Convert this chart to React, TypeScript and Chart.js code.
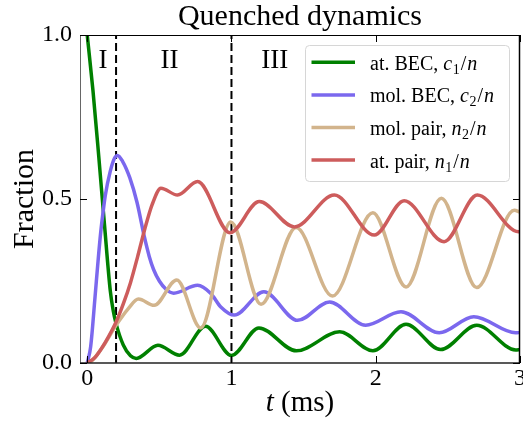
import React, { useEffect, useRef } from 'react';
import { Chart, registerables } from 'chart.js';

Chart.register(...registerables);

// ---------- data ----------
const chartTitle = 'Quenched dynamics';
const yLabel = 'Fraction';
const xLabelItalic = 't';
const xLabelRest = ' (ms)';

const seriesNames = ['at. BEC, ', 'mol. BEC, ', 'mol. pair, ', 'at. pair, '];
const seriesSymbols = ['c', 'c', 'n', 'n'];
const seriesSubs = ['1', '2', '2', '1'];
const seriesColors = ['#008000', '#7B68EE', '#D2B48C', '#CD5C5C'];

// at. BEC, c1/n
const tAtBEC = [0, 0.04, 0.08, 0.12, 0.16, 0.18, 0.2, 0.25, 0.3, 0.34, 0.49, 0.64, 0.82, 1.0, 1.19, 1.45, 1.75, 1.98, 2.21, 2.45, 2.7, 2.97, 3.0];
const atBEC = [1.0, 0.83, 0.63, 0.42, 0.22, 0.16, 0.12, 0.055, 0.022, 0.014, 0.054, 0.024, 0.112, 0.023, 0.107, 0.037, 0.095, 0.037, 0.118, 0.041, 0.115, 0.04, 0.041];

// mol. BEC, c2/n
const tMolBEC = [0, 0.024, 0.054, 0.075, 0.094, 0.11, 0.125, 0.16, 0.19, 0.21, 0.245, 0.295, 0.345, 0.396, 0.43, 0.46, 0.5, 0.546, 0.6, 0.765, 0.857, 0.926, 1.02, 1.224, 1.459, 1.68, 1.93, 2.175, 2.44, 2.68, 2.97, 3.0];
const molBEC = [0, 0.05, 0.2, 0.31, 0.4, 0.46, 0.51, 0.585, 0.625, 0.633, 0.615, 0.565, 0.49, 0.385, 0.325, 0.285, 0.25, 0.225, 0.213, 0.237, 0.212, 0.171, 0.146, 0.217, 0.13, 0.186, 0.115, 0.156, 0.092, 0.141, 0.092, 0.093];

// mol. pair, n2/n
const tMolPair = [0, 0.02, 0.1, 0.2, 0.285, 0.355, 0.464, 0.621, 0.787, 0.995, 1.205, 1.448, 1.7, 1.98, 2.21, 2.455, 2.7, 2.96, 3.0];
const molPair = [0, 0.002, 0.044, 0.115, 0.166, 0.195, 0.176, 0.253, 0.107, 0.43, 0.179, 0.413, 0.204, 0.458, 0.232, 0.502, 0.23, 0.466, 0.46];

// at. pair, n1/n
const tAtPair = [0, 0.05, 0.1, 0.15, 0.2, 0.25, 0.3, 0.35, 0.4, 0.45, 0.511, 0.626, 0.765, 0.99, 1.193, 1.436, 1.713, 1.99, 2.197, 2.474, 2.704, 2.99, 3.0];
const atPair = [0, 0.015, 0.045, 0.082, 0.125, 0.18, 0.245, 0.325, 0.41, 0.483, 0.533, 0.512, 0.553, 0.397, 0.492, 0.415, 0.512, 0.39, 0.495, 0.37, 0.512, 0.4, 0.4];

const seriesTimes = [tAtBEC, tMolBEC, tMolPair, tAtPair];
const seriesValues = [atBEC, molBEC, molPair, atPair];

const xTicks = [0, 1, 2, 3];
const yTicks = [0, 0.5, 1.0];
const xMin = -0.05;
const xMax = 3.0;

const regionBounds = [0.2, 1.0];
const regionLabels = ['I', 'II', 'III'];
const regionLabelX = [0.11, 0.57, 1.3];
const regionLabelY = 0.898;

// ---------- styles ----------
const SERIF = '"Liberation Serif", "Times New Roman", serif';

const decorPlugin = {
  id: 'decor',
  afterDraw(chart: any) {
    const { ctx, chartArea, scales } = chart;
    const { left, right, top, bottom } = chartArea;
    const x = scales.x;
    const y = scales.y;
    ctx.save();

    // region labels
    ctx.font = `27px ${SERIF}`;
    ctx.fillStyle = '#000';
    ctx.textAlign = 'center';
    ctx.textBaseline = 'alphabetic';
    regionLabels.forEach((s, i) => {
      ctx.fillText(s, x.getPixelForValue(regionLabelX[i]), y.getPixelForValue(regionLabelY));
    });

    // spines
    ctx.lineWidth = 1;
    ctx.strokeStyle = '#666';
    ctx.beginPath(); ctx.moveTo(left + 0.5, top); ctx.lineTo(left + 0.5, bottom); ctx.stroke();
    ctx.strokeStyle = '#222';
    ctx.lineWidth = 1.5;
    ctx.beginPath(); ctx.moveTo(left, bottom); ctx.lineTo(right, bottom); ctx.stroke();
    ctx.lineWidth = 1;
    ctx.strokeStyle = '#000';
    ctx.beginPath(); ctx.moveTo(left, top + 0.5); ctx.lineTo(right, top + 0.5); ctx.stroke();
    ctx.lineWidth = 1.5;
    ctx.beginPath(); ctx.moveTo(right - 0.5, top); ctx.lineTo(right - 0.5, bottom); ctx.stroke();

    // inward ticks
    ctx.lineWidth = 1;
    ctx.strokeStyle = '#000';
    const tl = 7;
    xTicks.forEach((v) => {
      const px = Math.round(x.getPixelForValue(v)) + 0.5;
      ctx.beginPath(); ctx.moveTo(px, bottom); ctx.lineTo(px, bottom - tl); ctx.stroke();
      ctx.beginPath(); ctx.moveTo(px, top); ctx.lineTo(px, top + tl); ctx.stroke();
    });
    yTicks.forEach((v) => {
      const py = Math.round(y.getPixelForValue(v)) + 0.5;
      ctx.beginPath(); ctx.moveTo(left, py); ctx.lineTo(left + tl, py); ctx.stroke();
      ctx.beginPath(); ctx.moveTo(right, py); ctx.lineTo(right - tl, py); ctx.stroke();
    });

    // x axis title with italic t
    const fsz = 29;
    ctx.textAlign = 'left';
    ctx.font = `italic ${fsz}px ${SERIF}`;
    const w1 = ctx.measureText(xLabelItalic).width;
    ctx.font = `${fsz}px ${SERIF}`;
    const w2 = ctx.measureText(xLabelRest).width;
    const cx = (left + right) / 2;
    const x0 = cx - (w1 + w2) / 2;
    const by = 411;
    ctx.font = `italic ${fsz}px ${SERIF}`;
    ctx.fillText(xLabelItalic, x0, by);
    ctx.font = `${fsz}px ${SERIF}`;
    ctx.fillText(xLabelRest, x0 + w1, by);

    // legend
    const bx = 305.5, byTop = 45.5, bw = 204, bh = 136;
    ctx.beginPath();
    (ctx as any).roundRect(bx, byTop, bw, bh, 4);
    ctx.fillStyle = 'rgba(255,255,255,0.85)';
    ctx.fill();
    ctx.strokeStyle = '#d6d6d6';
    ctx.lineWidth = 1;
    ctx.stroke();
    const rowY0 = 62.3, rowDy = 32.6;
    seriesNames.forEach((name, i) => {
      const ry = rowY0 + i * rowDy;
      ctx.strokeStyle = seriesColors[i];
      ctx.lineWidth = 3.5;
      ctx.beginPath(); ctx.moveTo(311.5, ry); ctx.lineTo(355, ry); ctx.stroke();
      let tx = 370;
      const base = ry + 7.5;
      ctx.fillStyle = '#000';
      ctx.font = `20px ${SERIF}`;
      ctx.fillText(name, tx, base);
      tx += ctx.measureText(name).width;
      ctx.font = `italic 20px ${SERIF}`;
      ctx.fillText(seriesSymbols[i], tx, base);
      tx += ctx.measureText(seriesSymbols[i]).width + 0.5;
      ctx.font = `14px ${SERIF}`;
      ctx.fillText(seriesSubs[i], tx, base + 4);
      tx += ctx.measureText(seriesSubs[i]).width + 1;
      ctx.font = `20px ${SERIF}`;
      ctx.fillText('/', tx, base);
      tx += ctx.measureText('/').width + 1;
      ctx.font = `italic 20px ${SERIF}`;
      ctx.fillText('n', tx, base);
    });

    ctx.restore();
  },
};

export default function App() {
  const ref = useRef<HTMLCanvasElement>(null);

  useEffect(() => {
    if (!ref.current) return;
    const datasets: any[] = seriesTimes.map((ts, i) => ({
      label: seriesNames[i] + seriesSymbols[i] + seriesSubs[i] + '/n',
      data: ts.map((t, j) => ({ x: t, y: seriesValues[i][j] })),
      borderColor: seriesColors[i],
      backgroundColor: seriesColors[i],
      borderWidth: 3.5,
      pointRadius: 0,
      fill: false,
      cubicInterpolationMode: 'monotone',
      order: 4 - i,
    }));
    regionBounds.forEach((b) => {
      datasets.push({
        label: 'boundary',
        data: [{ x: b, y: 0 }, { x: b, y: 1 }],
        borderColor: '#000',
        borderWidth: 2,
        borderDash: [8, 4],
        pointRadius: 0,
        fill: false,
        order: 10,
      });
    });

    const chart = new Chart(ref.current, {
      type: 'line',
      data: { datasets },
      options: {
        animation: false,
        responsive: false,
        devicePixelRatio: 1,
        layout: { padding: { left: 0, right: 3, top: 0, bottom: 0 } },
        plugins: {
          legend: { display: false },
          tooltip: { enabled: false },
          title: {
            display: true,
            text: chartTitle,
            fullSize: false,
            color: '#000',
            font: { family: SERIF, size: 30, weight: 'normal', lineHeight: 35 / 30 },
            padding: 0,
          },
        },
        scales: {
          x: {
            type: 'linear',
            min: xMin,
            max: xMax,
            afterBuildTicks: (s: any) => { s.ticks = xTicks.map((v) => ({ value: v })); },
            afterFit: (s: any) => { s.height = 59; s.paddingLeft = 0; s.paddingRight = 0; },
            grid: { display: false, drawTicks: false },
            border: { display: false },
            ticks: {
              color: '#000',
              font: { family: SERIF, size: 24 },
              padding: 1,
              maxRotation: 0,
              autoSkip: false,
              callback: (v: any) => String(v),
            },
          },
          y: {
            type: 'linear',
            min: 0,
            max: 1,
            afterBuildTicks: (s: any) => { s.ticks = yTicks.map((v) => ({ value: v })); },
            afterFit: (s: any) => { s.width = 80; s.paddingTop = 0; s.paddingBottom = 0; },
            grid: { display: false, drawTicks: false },
            border: { display: false },
            title: {
              display: true,
              text: yLabel,
              color: '#000',
              font: { family: SERIF, size: 30, lineHeight: 1.2 },
              padding: { top: 7, bottom: 0 },
            },
            ticks: {
              color: '#000',
              font: { family: SERIF, size: 24 },
              padding: 8,
              autoSkip: false,
              callback: (v: any) => Number(v).toFixed(1),
            },
          },
        },
      },
      plugins: [decorPlugin],
    } as any);
    return () => chart.destroy();
  }, []);

  return (
    <div style={{ position: 'fixed', left: 0, top: 0, width: 523, height: 422, background: '#fff' }}>
      <canvas ref={ref} width={523} height={422} style={{ display: 'block', width: 523, height: 422 }} />
    </div>
  );
}
